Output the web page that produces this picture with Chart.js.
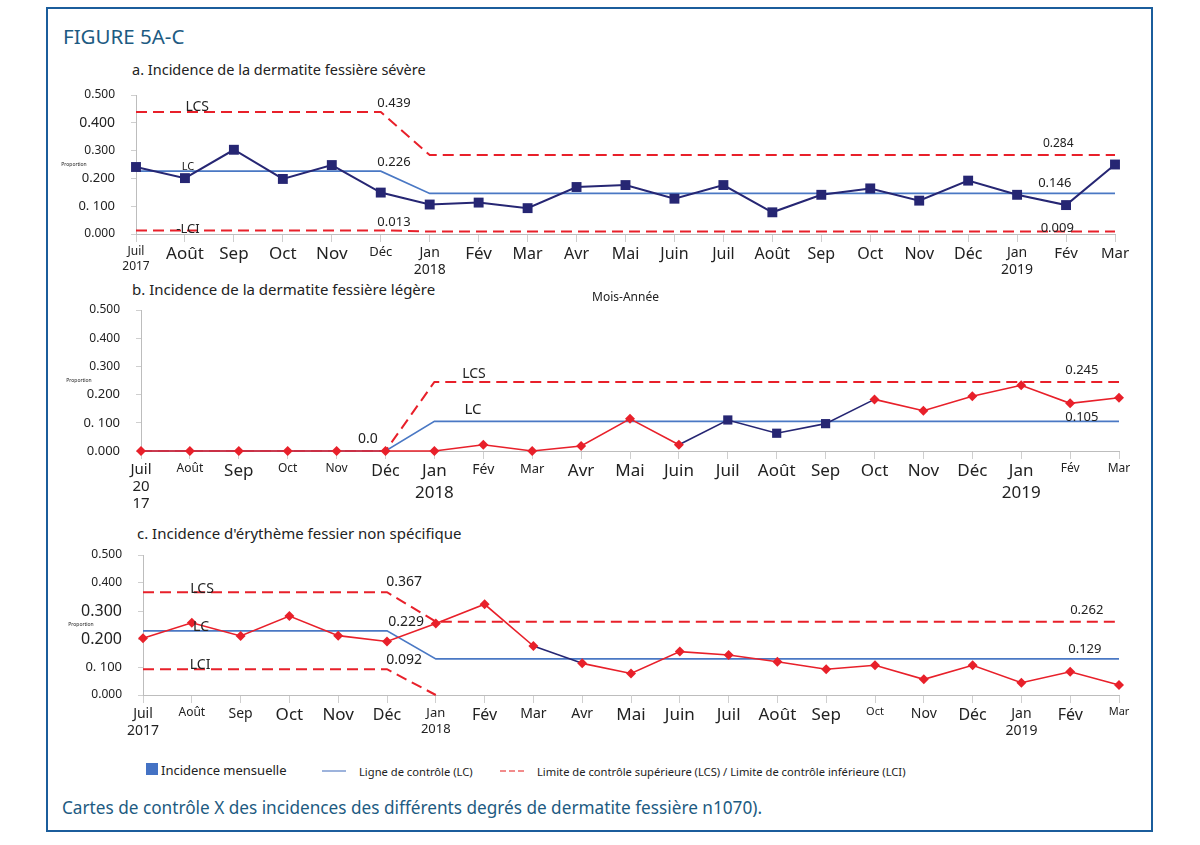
<!DOCTYPE html>
<html lang="fr">
<head>
<meta charset="utf-8">
<title>Figure 5A-C</title>
<script src="https://cdn.jsdelivr.net/npm/chart.js@4.4.1/dist/chart.umd.min.js"></script>
<style>
  html, body { margin: 0; padding: 0; background: #fff; }
  body { width: 1200px; height: 845px; position: relative; overflow: hidden; font-family: "Noto Sans", sans-serif; color: #222; }
  .frame { position: absolute; left: 46px; top: 7px; width: 1107px; height: 825px; border: 2px solid #1b5d9c; box-sizing: border-box; }
  .txt { position: absolute; white-space: nowrap; line-height: 1; }
  .fig { left: 63px; top: 26px; font-size: 20.5px; color: #1d5b82; }
  .caption { left: 62px; top: 799px; font-size: 17.2px; color: #1d5b82; }
  .sub { color: #222; }
  canvas { position: absolute; }
  .legend { position: absolute; top: 763px; left: 0; height: 16px; }
  .legend span { position: absolute; white-space: nowrap; line-height: 1; }
</style>
</head>
<body>
<div class="frame"></div>
<div class="txt fig">FIGURE 5A-C</div>
<div class="txt sub" style="left:132px; top:62px; font-size:14.5px;">a. Incidence de la dermatite fessière sévère</div>
<div class="txt sub" style="left:132px; top:282px; font-size:15px;">b. Incidence de la dermatite fessière légère</div>
<div class="txt sub" style="left:137px; top:526px; font-size:15px;">c. Incidence d'érythème fessier non spécifique</div>

<canvas id="chartA" width="1100" height="220" style="left:50px; top:85px;"></canvas>
<canvas id="chartB" width="1100" height="215" style="left:50px; top:300px;"></canvas>
<canvas id="chartC" width="1100" height="200" style="left:50px; top:545px;"></canvas>

<div class="legend">
  <span style="left:146px; top:0; width:12px; height:12px; background:#4472c4;"></span>
  <span style="left:161px; top:1px; font-size:13px;">Incidence mensuelle</span>
  <span style="left:322px; top:7px; width:24px; height:0; border-top:2px solid #9db3dc;"></span>
  <span style="left:359px; top:3px; font-size:11.2px;">Ligne de contrôle (LC)</span>
  <span style="left:500px; top:7px; width:24px; height:0; border-top:2px dashed #f28b8b;"></span>
  <span style="left:537px; top:3px; font-size:11.2px;">Limite de contrôle supérieure (LCS) / Limite de contrôle inférieure (LCI)</span>
</div>
<div class="txt caption">Cartes de contrôle X des incidences des différents degrés de dermatite fessière n1070).</div>

<script>
// Juil 2017 -> Mar 2019
const months = ["Juil 2017", "Août 2017", "Sep 2017", "Oct 2017", "Nov 2017", "Déc 2017",
  "Jan 2018", "Fév 2018", "Mar 2018", "Avr 2018", "Mai 2018", "Juin 2018", "Juil 2018",
  "Août 2018", "Sep 2018", "Oct 2018", "Nov 2018", "Déc 2018", "Jan 2019", "Fév 2019", "Mar 2019"];

const yTickLabels = ["0.000", "0. 100", "0.200", "0.300", "0.400", "0.500"];

// a. dermatite sévère
const incidenceA = [0.241, 0.201, 0.303, 0.198, 0.248, 0.149, 0.106, 0.113, 0.093, 0.169, 0.176,
  0.127, 0.176, 0.078, 0.141, 0.164, 0.120, 0.192, 0.141, 0.104, 0.250];
const lcsA = [0.439, 0.439, 0.439, 0.439, 0.439, 0.439, 0.284, 0.284, 0.284, 0.284, 0.284,
  0.284, 0.284, 0.284, 0.284, 0.284, 0.284, 0.284, 0.284, 0.284, 0.284];
const lcA = [0.226, 0.226, 0.226, 0.226, 0.226, 0.226, 0.146, 0.146, 0.146, 0.146, 0.146,
  0.146, 0.146, 0.146, 0.146, 0.146, 0.146, 0.146, 0.146, 0.146, 0.146];
const lciA = [0.013, 0.013, 0.013, 0.013, 0.013, 0.013, 0.009, 0.009, 0.009, 0.009, 0.009,
  0.009, 0.009, 0.009, 0.009, 0.009, 0.009, 0.009, 0.009, 0.009, 0.009];
const xTicksA = [["Juil", "2017"], "Août", "Sep", "Oct", "Nov", "Déc", ["Jan", "2018"], "Fév", "Mar",
  "Avr", "Mai", "Juin", "Juil", "Août", "Sep", "Oct", "Nov", "Déc", ["Jan", "2019"], "Fév", "Mar"];

// b. dermatite légère
const incidenceB = [0, 0, 0, 0, 0, 0, 0, 0.022, 0.000, 0.018, 0.114, 0.022, 0.110, 0.063, 0.097,
  0.183, 0.143, 0.194, 0.233, 0.169, 0.189];
const lcsB = [0, 0, 0, 0, 0, 0, 0.245, 0.245, 0.245, 0.245, 0.245, 0.245, 0.245, 0.245, 0.245,
  0.245, 0.245, 0.245, 0.245, 0.245, 0.245];
const lcB = [0, 0, 0, 0, 0, 0, 0.105, 0.105, 0.105, 0.105, 0.105, 0.105, 0.105, 0.105, 0.105,
  0.105, 0.105, 0.105, 0.105, 0.105, 0.105];
const xTicksB = [["Juil", "20", "17"], "Août", "Sep", "Oct", "Nov", "Déc", ["Jan", "2018"], "Fév", "Mar",
  "Avr", "Mai", "Juin", "Juil", "Août", "Sep", "Oct", "Nov", "Déc", ["Jan", "2019"], "Fév", "Mar"];

// c. érythème non spécifique
const incidenceC = [0.203, 0.258, 0.211, 0.282, 0.212, 0.191, 0.255, 0.324, 0.175, 0.113, 0.077,
  0.155, 0.143, 0.119, 0.092, 0.106, 0.056, 0.106, 0.044, 0.083, 0.036];
const lcsC = [0.367, 0.367, 0.367, 0.367, 0.367, 0.367, 0.262, 0.262, 0.262, 0.262, 0.262,
  0.262, 0.262, 0.262, 0.262, 0.262, 0.262, 0.262, 0.262, 0.262, 0.262];
const lcC = [0.229, 0.229, 0.229, 0.229, 0.229, 0.229, 0.129, 0.129, 0.129, 0.129, 0.129,
  0.129, 0.129, 0.129, 0.129, 0.129, 0.129, 0.129, 0.129, 0.129, 0.129];
const lciC = [0.092, 0.092, 0.092, 0.092, 0.092, 0.092, 0, null, null, null, null,
  null, null, null, null, null, null, null, null, null, null];
const xTicksC = [["Juil", "2017"], "Août", "Sep", "Oct", "Nov", "Déc", ["Jan", "2018"], "Fév", "Mar",
  "Avr", "Mai", "Juin", "Juil", "Août", "Sep", "Oct", "Nov", "Déc", ["Jan", "2019"], "Fév", "Mar"];

// font sizes of the tick labels, as they appear in the original figure
const xSizeA = [12, 17, 17, 17, 17, 13, 14, 17, 16, 16, 16, 16, 16, 16, 16, 16, 16, 16, 14, 15, 15];
const xSizeB = [15, 12, 17, 12, 12, 16, 17, 14, 13, 17, 17, 17, 17, 17, 17, 17, 17, 17, 17, 12, 12];
const xSizeC = [14, 12, 14, 17, 17, 16, 13, 16, 14, 14, 17, 17, 17, 17, 17, 11, 14, 16, 14, 16, 11];
const ySizeA = [12, 13, 13, 12, 14, 12];
const ySizeB = [13, 13, 13, 12, 12, 12];
const ySizeC = [12, 13, 16, 16, 12, 12];

const NAVY = "#262673";
const RED = "#e8202a";
const BLUE = "#4a78c4";

const notesPlugin = {
  id: "notes",
  afterDatasetsDraw(chart, args, opts) {
    const { ctx, chartArea } = chart;
    const x = chart.scales.x, y = chart.scales.y;
    ctx.save();
    ctx.fillStyle = "#222";
    ctx.textAlign = "center";
    ctx.textBaseline = "middle";
    (opts.items || []).forEach(n => {
      ctx.font = n.size + 'px "Noto Sans"';
      ctx.fillText(n.text, x.getPixelForValue(n.i), y.getPixelForValue(n.v));
    });
    ctx.font = '5px "Noto Sans"';
    ctx.fillText("Proportion", chartArea.left - 62, y.getPixelForValue(0.25));
    ctx.restore();
  }
};

function makeChart(id, cfg) {
  const limit = data => ({
    data: data, borderColor: RED, borderWidth: 2, borderDash: [11, 6],
    pointRadius: 0, fill: false, tension: 0, clip: false
  });
  const datasets = [cfg.series,
    { data: cfg.lc, borderColor: BLUE, borderWidth: 1.6, pointRadius: 0, fill: false, clip: false }];
  cfg.limits.forEach(d => datasets.push(limit(d)));

  return new Chart(document.getElementById(id), {
    type: "line",
    data: { labels: months, datasets: datasets },
    plugins: [notesPlugin],
    options: {
      responsive: false,
      animation: false,
      layout: { padding: { top: 10, right: cfg.padRight, left: 0, bottom: 0 } },
      plugins: {
        legend: { display: false },
        tooltip: { enabled: false },
        notes: { items: cfg.notes }
      },
      scales: {
        x: {
          offset: false,
          afterFit: s => { s.height = cfg.xHeight; },
          border: { display: true, color: "#bdbdbd", width: 1 },
          grid: { display: true, drawOnChartArea: false, drawTicks: true, tickLength: 8, color: "#cfcfcf" },
          ticks: {
            autoSkip: false, maxRotation: 0, minRotation: 0, padding: 2, color: "#222",
            callback: (v, i) => cfg.xTicks[i],
            font: c => ({ family: "Noto Sans", size: cfg.xSizes[c.index],
              lineHeight: Array.isArray(cfg.xTicks[c.index]) && cfg.xTicks[c.index].length > 2 ? 1.15 : 1.25 })
          },
          title: cfg.xTitle || { display: false }
        },
        y: {
          min: 0, max: 0.5,
          afterFit: s => { s.width = cfg.yWidth; s.paddingTop = 0; s.paddingBottom = 0; },
          border: { display: true, color: "#bdbdbd", width: 1 },
          grid: { display: true, drawOnChartArea: false, drawTicks: true, tickLength: 5, color: "#cfcfcf" },
          ticks: {
            stepSize: 0.1, padding: 16, color: "#222",
            callback: (v, i) => yTickLabels[i],
            font: c => ({ family: "Noto Sans", size: cfg.ySizes[c.index] })
          }
        }
      }
    }
  });
}

makeChart("chartA", {
  series: {
    data: incidenceA, borderColor: NAVY, borderWidth: 2, backgroundColor: NAVY,
    pointStyle: "rect", pointRadius: 7, pointBorderWidth: 0, clip: false
  },
  lc: lcA, limits: [lcsA, lciA],
  xTicks: xTicksA, xSizes: xSizeA, ySizes: ySizeA,
  yWidth: 86, xHeight: 71, padRight: 35,
  xTitle: { display: true, text: "Mois-Année", color: "#222", font: { family: "Noto Sans", size: 12 }, padding: { top: 0, bottom: 0 } },
  notes: [
    { text: "LCS", i: 1.25, v: 0.457, size: 14 },
    { text: "0.439", i: 5.27, v: 0.471, size: 13 },
    { text: "LC", i: 1.06, v: 0.241, size: 11 },
    { text: "0.226", i: 5.27, v: 0.259, size: 13 },
    { text: "-LCI", i: 1.06, v: 0.018, size: 13 },
    { text: "0.013", i: 5.27, v: 0.043, size: 13 },
    { text: "0.284", i: 18.84, v: 0.324, size: 12 },
    { text: "0.146", i: 18.77, v: 0.183, size: 13 },
    { text: "0.009", i: 18.82, v: 0.020, size: 13 }
  ]
});

makeChart("chartB", {
  series: {
    data: incidenceB, borderColor: RED, borderWidth: 1.6, clip: false,
    segment: { borderColor: c => (c.p0DataIndex >= 11 && c.p0DataIndex <= 14) ? NAVY : RED },
    pointStyle: incidenceB.map((v, i) => (i >= 12 && i <= 14) ? "rect" : "rectRot"),
    pointRadius: incidenceB.map((v, i) => (i >= 12 && i <= 14) ? 6.5 : 5),
    backgroundColor: incidenceB.map((v, i) => (i >= 12 && i <= 14) ? NAVY : RED),
    pointBorderWidth: 0
  },
  lc: lcB, limits: [lcsB],
  xTicks: xTicksB, xSizes: xSizeB, ySizes: ySizeB,
  yWidth: 91, xHeight: 64, padRight: 31,
  notes: [
    { text: "0.0", i: 4.64, v: 0.043, size: 14 },
    { text: "LCS", i: 6.81, v: 0.273, size: 14 },
    { text: "LC", i: 6.79, v: 0.145, size: 15 },
    { text: "0.245", i: 19.24, v: 0.287, size: 13 },
    { text: "0.105", i: 19.24, v: 0.121, size: 13 }
  ]
});

makeChart("chartC", {
  series: {
    data: incidenceC, borderColor: RED, borderWidth: 1.6, clip: false,
    segment: { borderColor: c => c.p0DataIndex === 8 ? NAVY : RED },
    pointStyle: "rectRot", pointRadius: 5, backgroundColor: RED, pointBorderWidth: 0
  },
  lc: lcC, limits: [lcsC, lciC],
  xTicks: xTicksC, xSizes: xSizeC, ySizes: ySizeC,
  yWidth: 93, xHeight: 50, padRight: 31,
  notes: [
    { text: "LCS", i: 1.21, v: 0.379, size: 14 },
    { text: "0.367", i: 5.35, v: 0.404, size: 14 },
    { text: "LC", i: 1.19, v: 0.243, size: 14 },
    { text: "0.229", i: 5.39, v: 0.261, size: 14 },
    { text: "LCI", i: 1.17, v: 0.107, size: 14 },
    { text: "0.092", i: 5.35, v: 0.125, size: 14 },
    { text: "0.262", i: 19.34, v: 0.304, size: 13 },
    { text: "0.129", i: 19.30, v: 0.164, size: 13 }
  ]
});
</script>
</body>
</html>
